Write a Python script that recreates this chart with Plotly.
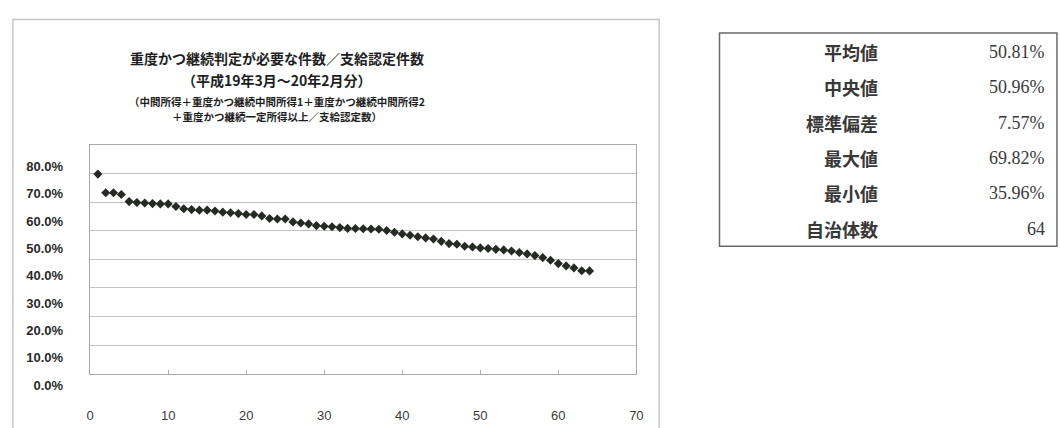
import plotly.graph_objects as go

# --- data -------------------------------------------------------------
municipality_no = list(range(1, 65))
ratio_pct = [
    69.82, 63.3, 63.3, 62.7, 60.2, 59.9, 59.7, 59.5, 59.4, 59.4,
    58.5, 57.7, 57.4, 57.2, 57.2, 56.9, 56.5, 56.3, 56.0, 55.7,
    55.7, 55.2, 54.3, 54.1, 54.1, 53.1, 52.7, 52.4, 51.8, 51.6,
    51.4, 51.1, 50.82, 50.8, 50.7, 50.6, 50.5, 50.1, 49.5, 48.9,
    48.4, 47.9, 47.5, 47.1, 46.3, 45.5, 45.3, 44.6, 44.3, 44.0,
    43.8, 43.5, 43.3, 42.9, 42.4, 41.9, 41.3, 40.6, 39.7, 38.5,
    37.7, 37.0, 36.0, 35.96,
]
y_tick_vals = [0.0, 0.1, 0.2, 0.3, 0.4, 0.5, 0.6, 0.7, 0.8]
y_tick_text = ["0.0%", "10.0%", "20.0%", "30.0%", "40.0%",
               "50.0%", "60.0%", "70.0%", "80.0%"]
x_tick_vals = [0, 10, 20, 30, 40, 50, 60, 70]

title_main = ["重度かつ継続判定が必要な件数／支給認定件数",
              "（平成19年3月～20年2月分）"]
title_sub = ["（中間所得＋重度かつ継続中間所得1＋重度かつ継続中間所得2",
             "＋重度かつ継続一定所得以上／支給認定数）"]

stat_names = ["平均値", "中央値", "標準偏差", "最大値", "最小値", "自治体数"]
stat_values = ["50.81%", "50.96%", "7.57%", "69.82%", "35.96%", "64"]

# --- page geometry helpers (pixel -> paper fraction) -------------------
W, H = 1060, 428


def px_x(x):
    return x / W


def px_y(y):
    return 1 - y / H


CJK = "Noto Sans CJK JP"
SANS = "Liberation Sans Narrow, Liberation Sans, Arial, sans-serif"
SERIF = "Liberation Serif, DejaVu Serif, serif"

fig = go.Figure()

fig.add_trace(go.Scatter(
    x=municipality_no,
    y=[v / 100 for v in ratio_pct],
    mode="markers",
    marker=dict(symbol="diamond", size=7, color="#252a25"),
    showlegend=False,
    hovertemplate="%{x}: %{y:.2%}<extra></extra>",
))
# carrier for the value-label axis
fig.add_trace(go.Scatter(x=[None], y=[None], yaxis="y2",
                         showlegend=False, hoverinfo="skip"))

fig.update_layout(
    width=W, height=H,
    margin=dict(l=0, r=0, t=0, b=0),
    paper_bgcolor="white",
    plot_bgcolor="rgba(0,0,0,0)",
    showlegend=False,
    xaxis=dict(
        domain=[px_x(87), px_x(639)],
        range=[0, 70],
        tickvals=x_tick_vals,
        ticks="inside", ticklen=4, tickcolor="#b0b0b0",
        showgrid=False, zeroline=False,
        showline=True, linecolor="#a8a8a8", linewidth=1, mirror=True,
        ticklabelstandoff=30,
        tickfont=dict(family=SANS, size=13, color="#3a3a3a"),
    ),
    yaxis=dict(
        domain=[px_y(380), px_y(143)],
        range=[0, 0.8],
        tickvals=y_tick_vals,
        showticklabels=False,
        ticks="",
        showgrid=True, gridcolor="#c2c2c2", gridwidth=1,
        zeroline=False,
        showline=True, linecolor="#a8a8a8", linewidth=1, mirror=True,
    ),
    yaxis2=dict(
        domain=[px_y(392), px_y(165)],
        range=[0, 0.8],
        anchor="free", position=px_x(87),
        tickvals=y_tick_vals, ticktext=y_tick_text,
        ticks="", showgrid=False, zeroline=False, showline=False,
        ticklabelstandoff=27,
        tickfont=dict(family=SANS, size=13, color="#2a2a2a", weight="bold"),
    ),
)

# chart frame and stats-table frame
fig.add_shape(type="rect", xref="paper", yref="paper",
              x0=px_x(9), x1=px_x(662), y0=px_y(440), y1=px_y(13),
              line=dict(color="#c4c4c4", width=1.5), fillcolor="rgba(0,0,0,0)",
              layer="below")
fig.add_shape(type="rect", xref="paper", yref="paper",
              x0=px_x(723), x1=px_x(1064), y0=px_y(248), y1=px_y(27),
              line=dict(color="#6a6a6a", width=1.5), fillcolor="rgba(0,0,0,0)")

# chart title
title_x = px_x(276)
for text, y in zip(title_main, [53, 76]):
    fig.add_annotation(text=f"<b>{text}</b>", x=title_x, y=px_y(y),
                       xref="paper", yref="paper", showarrow=False,
                       xanchor="center", yanchor="middle",
                       font=dict(family=CJK, size=14, color="#1e1e1e"))
for text, y in zip(title_sub, [98, 113]):
    fig.add_annotation(text=f"<b>{text}</b>", x=title_x, y=px_y(y),
                       xref="paper", yref="paper", showarrow=False,
                       xanchor="center", yanchor="middle",
                       font=dict(family=CJK, size=10.5, color="#1e1e1e"))

# statistics table
row_y = [47, 83, 120, 157, 193, 230]
for name, val, y in zip(stat_names, stat_values, row_y):
    fig.add_annotation(text=f"<b>{name}</b>", x=px_x(885), y=px_y(y),
                       xref="paper", yref="paper", showarrow=False,
                       xanchor="right", yanchor="middle",
                       font=dict(family=CJK, size=18, color="#383838"))
    fig.add_annotation(text=val, x=px_x(1054), y=px_y(y),
                       xref="paper", yref="paper", showarrow=False,
                       xanchor="right", yanchor="middle",
                       font=dict(family=SERIF, size=18, color="#3a3a3a"))

fig.write_html("out.html")
